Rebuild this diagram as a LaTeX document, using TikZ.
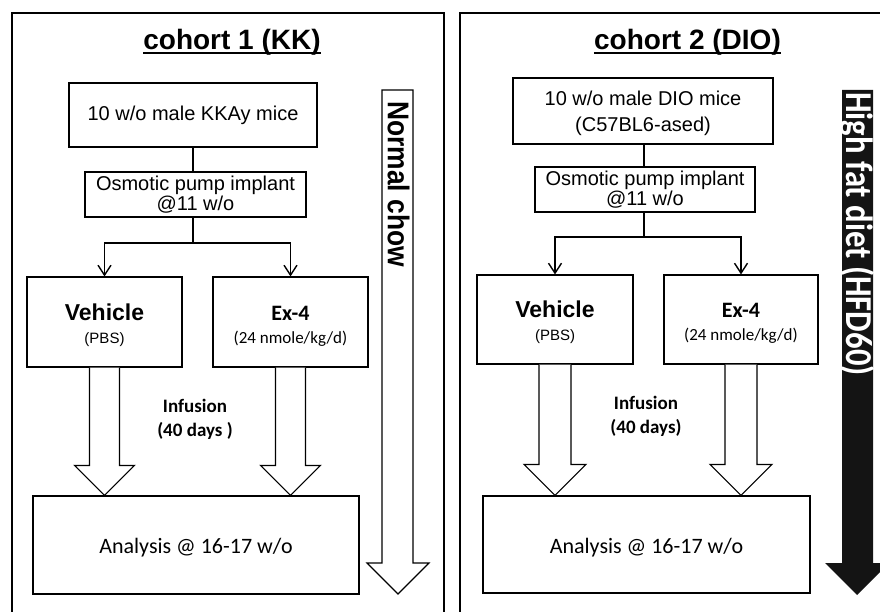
\documentclass[tikz,border=0pt]{standalone}
\usepackage{fontspec}
\setmainfont{Liberation Sans}
\newfontfamily\calib{Carlito}
\usetikzlibrary{arrows.meta,calc}
\begin{document}
\begin{tikzpicture}[x=1pt,y=-1pt,
  box/.style={draw,line width=1.1pt,inner sep=0pt,align=center},
  conn/.style={line width=1.5pt},
  arr/.style={conn,-{Straight Barb[length=10pt,width=13pt,line width=1.4pt]}},
  hollow/.style={draw,line width=1.1pt,fill=white,line join=miter},
  panel/.style={line width=1.3pt},
  ttl/.style={font=\fontsize{28}{30}\selectfont\bfseries,inner sep=0pt,anchor=base},
  mainf/.style={font=\fontsize{20}{26}\selectfont},
  osm/.style={font=\fontsize{20}{20}\selectfont},
  trt/.style={font=\fontsize{15}{23}\selectfont},
  exf/.style={font=\calib\fontsize{17}{23}\selectfont},
  inff/.style={font=\calib\bfseries\fontsize{19}{24}\selectfont,align=center,inner sep=0pt},
  anaf/.style={font=\calib\fontsize{22}{24}\selectfont},
]
\useasboundingbox (0,0) rectangle (880,612);

% ---------- panels ----------
\draw[panel] (12,612) -- (12,13) -- (444,13) -- (444,612);
\draw[panel] (460,612) -- (460,13) -- (880,13);

% ---------- cohort 1 ----------
\node[ttl] (t1) at (232,50) {cohort 1 (KK)};
\draw[line width=1.8pt] ($(t1.base west)+(0,3)$) -- ($(t1.base east)+(0,3)$);

\node[box,mainf,minimum width=248pt,minimum height=64pt] (a1) at (193,115) {10 w/o male KKAy mice};
\node[box,osm,minimum width=221pt,minimum height=45pt] (b1) at (195.5,194.5) {Osmotic pump implant\\@11 w/o};
\node[box,trt,minimum width=155pt,minimum height=90pt] (v1) at (104.5,322) {\rule{0pt}{24pt}{\fontsize{23}{23}\selectfont\bfseries Vehicle}\\(PBS)};
\node[box,exf,minimum width=155pt,minimum height=90pt] (e1) at (290.5,322) {\rule{0pt}{23pt}{\bfseries\fontsize{22}{22}\selectfont Ex-4}\\(24 nmole/kg/d)};
\node[box,anaf,minimum width=326pt,minimum height=98pt] (an1) at (196,545) {\raisebox{-3pt}[\height][\depth]{Analysis @ 16-17 w/o}};
\node[inff] (i1) at (195,419) {Infusion\\(40 days )};

\coordinate (a1s) at (193,147);
\draw[conn] (a1s) -- (a1s |- b1.north);
\coordinate (j1) at (193,243);
\draw[conn] (b1.south -| j1) -- (j1);
\draw[arr] (j1) -| (v1.north);
\draw[arr] (j1) -| (e1.north);

\foreach \s/\w/\h in {v1/15/30,e1/15/30}{
  \path (\s.south) coordinate (ss) (ss |- an1.north) coordinate (tt);
  \draw[hollow] ($(ss)+(-\w,0)$) -- ($(tt)+(-\w,-\h)$) -- ($(tt)+(-\h,-\h)$) -- (tt)
     -- ($(tt)+(\h,-\h)$) -- ($(tt)+(\w,-\h)$) -- ($(ss)+(\w,0)$);
}

% Normal chow arrow
\draw[hollow] (382,90) -- (413,90) -- (413,563) -- (429,563) -- (398,594) -- (367,563) -- (382,563) -- cycle;
\node[rotate=-90,font=\bfseries\fontsize{30}{30}\selectfont,inner sep=0pt] (nc) at (398.5,184) {\scalebox{0.88}[1]{Normal chow}};

% ---------- cohort 2 ----------
\node[ttl] (t2) at (687.5,50) {cohort 2 (DIO)};
\draw[line width=1.8pt] ($(t2.base west)+(0,3)$) -- ($(t2.base east)+(0,3)$);

\node[box,mainf,minimum width=260pt,minimum height=66pt] (a2) at (643,111) {\rule{0pt}{18.5pt}10 w/o male DIO mice\\(C57BL6-ased)};
\node[box,osm,minimum width=220pt,minimum height=45pt] (b2) at (645,189.5) {Osmotic pump implant\\@11 w/o};
\node[box,trt,minimum width=156pt,minimum height=89pt] (v2) at (555,319.5) {\rule{0pt}{23pt}{\fontsize{23}{23}\selectfont\bfseries Vehicle}\\(PBS)};
\node[box,exf,minimum width=154pt,minimum height=89pt] (e2) at (741,319.5) {\rule{0pt}{22pt}{\bfseries\fontsize{22}{22}\selectfont Ex-4}\\(24 nmole/kg/d)};
\node[box,anaf,minimum width=327pt,minimum height=97pt] (an2) at (646.5,544.5) {\raisebox{-3pt}[\height][\depth]{Analysis @ 16-17 w/o}};
\node[inff] (i2) at (646,416) {Infusion\\(40 days)};

\coordinate (a2s) at (644,144);
\draw[conn] (a2s) -- (a2s |- b2.north);
\coordinate (j2) at (644,237);
\draw[conn] (b2.south -| j2) -- (j2);
\draw[arr] (j2) -| (v2.north);
\draw[arr] (j2) -| (e2.north);

\foreach \s/\w/\h in {v2/16/31,e2/16/31}{
  \path (\s.south) coordinate (ss) (ss |- an2.north) coordinate (tt);
  \draw[hollow] ($(ss)+(-\w,0)$) -- ($(tt)+(-\w,-\h)$) -- ($(tt)+(-\h,-\h)$) -- (tt)
     -- ($(tt)+(\h,-\h)$) -- ($(tt)+(\w,-\h)$) -- ($(ss)+(\w,0)$);
}

% High fat diet arrow
\fill[black!92] (842,90) -- (873,90) -- (873,563) -- (889,563) -- (857,595) -- (825,563) -- (842,563) -- cycle;
\node[rotate=-90,text=white,font=\calib\bfseries\fontsize{38}{38}\selectfont,inner sep=0pt] (hfd) at (857.5,234) {\scalebox{0.86}[1]{High fat diet (HFD60)}};
\end{tikzpicture}
\end{document}
